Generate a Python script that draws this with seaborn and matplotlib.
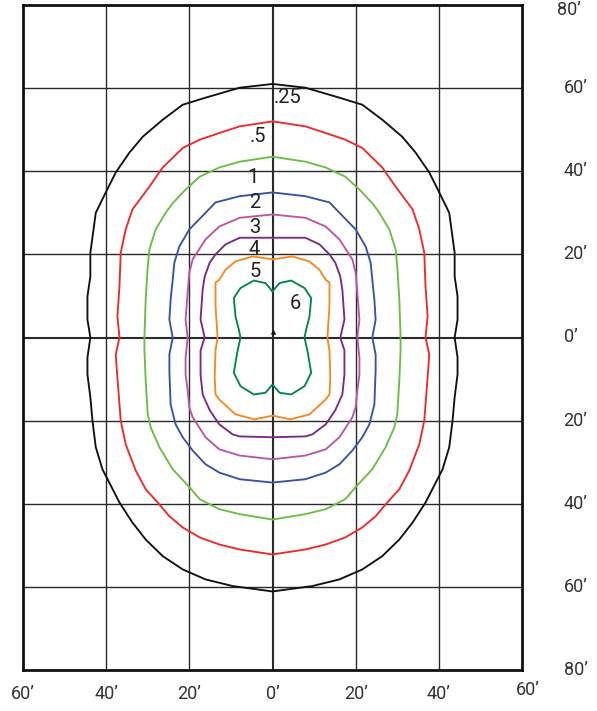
# grafico_isolux.py
# Diagrama de curvas isolux (vista en planta) con seaborn / matplotlib.

import matplotlib
matplotlib.use('Agg')
import matplotlib.pyplot as plt
import seaborn as sns
import pandas as pd

sns.set_style("white")
plt.rcParams['font.family'] = ['Roboto', 'DejaVu Sans']

# Datos: media curva derecha (x >= 0), de arriba hacia abajo, en pies
NIVELES = ['.25', '.5', '1', '2', '3', '4', '5', '6']
COLORES = ['#111111', '#ee2a2a', '#6cbd45', '#3a52a2', '#bb55a5', '#7a2a85', '#f58a22', '#00874a']

curva_025 = [(0, 61.0), (7.9, 60.1), (16.1, 57.7), (21.6, 56.0), (26.4, 52.4), (31.2, 48.3),
             (34.4, 44.5), (37.7, 39.7), (40.1, 34.9), (42.5, 30.0), (43.8, 20.4), (43.8, 14.7),
             (44.5, 9.9), (44.5, 4.3), (43.8, 0), (44.5, -4.8), (44.5, -8.9), (43.8, -14.4),
             (43.3, -20.0), (42.5, -26.4), (40.9, -31.7), (36.8, -39.7), (33.7, -44.5),
             (30.5, -48.6), (26.4, -52.6), (21.6, -55.8), (16.1, -58.2), (9.6, -59.8), (0, -61.1)]
curva_05 = [(0, 52.0), (7.9, 50.8), (12.8, 49.2), (17.5, 47.6), (21.6, 45.6), (26.4, 40.9),
            (29.6, 36.3), (33.7, 30.8), (35.3, 26.0), (36.5, 20.4), (36.8, 12.3), (37.3, 5.1),
            (36.8, 0), (37.7, -4.1), (37.3, -9.6), (36.5, -20.0), (35.3, -25.7), (32.9, -32.0),
            (30.5, -36.5), (27.6, -39.7), (24.8, -43.0), (21.6, -45.7), (17.5, -48.1),
            (12.8, -49.8), (7.9, -51.0), (0, -52.2)]
curva_1 = [(0, 43.5), (7.9, 42.3), (12.8, 40.9), (17.5, 38.7), (20.9, 35.6), (24.0, 32.3),
           (25.7, 30.0), (28.1, 26.0), (29.6, 21.2), (30.0, 17.1), (30.5, 9.1), (30.8, 0),
           (30.8, -3.1), (30.5, -10.3), (30.0, -18.5), (29.3, -21.6), (27.2, -26.4),
           (24.0, -31.7), (20.0, -36.0), (17.5, -38.9), (12.8, -41.3), (7.9, -42.5), (0, -43.8)]
curva_2 = [(0, 34.9), (7.9, 34.0), (13.7, 32.5), (16.1, 30.0), (20.0, 26.0), (22.4, 21.9),
           (23.6, 18.0), (24.0, 13.9), (24.5, 9.1), (24.8, 4.3), (24.0, 0), (24.8, -4.1),
           (24.8, -8.0), (24.5, -16.1), (23.3, -20.9), (21.6, -24.0), (19.2, -27.2),
           (16.1, -30.5), (12.8, -32.5), (7.9, -34.1), (0, -34.9)]
curva_3 = [(0, 29.6), (7.9, 28.8), (12.8, 26.7), (16.1, 23.6), (19.2, 18.8), (20.0, 15.6),
           (20.4, 10.8), (20.9, 4.3), (20.4, 0), (20.9, -4.8), (20.9, -8.9), (20.4, -12.7),
           (20.0, -16.8), (19.2, -19.2), (16.1, -24.0), (12.8, -26.9), (7.9, -28.4), (0, -29.3)]
curva_4 = [(0, 24.0), (7.9, 24.0), (11.3, 22.4), (13.7, 20.0), (15.1, 18.0), (16.3, 14.7),
           (16.8, 11.5), (17.3, 4.3), (16.3, 0), (17.3, -3.1), (17.3, -8.9), (16.8, -13.7),
           (15.1, -17.5), (12.8, -20.9), (9.6, -23.3), (7.9, -23.8), (0, -24.0)]
curva_5 = [(0, 18.8), (4.8, 19.5), (8.9, 18.3), (11.3, 16.3), (12.8, 13.9), (13.7, 13.2),
           (13.7, 7.5), (13.2, 0), (13.7, -3.1), (13.9, -9.6), (13.7, -13.7), (12.8, -14.9),
           (8.9, -18.5), (4.3, -19.7), (0, -18.8)]
curva_6 = [(0, 11.1), (1.7, 13.1), (4.5, 13.7), (7.7, 11.9), (9.3, 9.5), (8.9, 5.1),
           (8.1, 1.9), (7.7, 0), (8.5, -3.7), (9.3, -8.5), (7.7, -11.7), (4.5, -13.7),
           (1.7, -13.3), (0, -11.3)]

CURVAS = [curva_025, curva_05, curva_1, curva_2, curva_3, curva_4, curva_5, curva_6]

# Posición de las etiquetas de cada curva
ETIQUETAS_X = [0.3, -3.6, -4.8, -4.3, -4.3, -4.3, -4.1, 5.5]
ETIQUETAS_Y = [57.7, 48.3, 38.5, 32.5, 26.4, 21.2, 15.9, 8.2]
ETIQUETAS_HA = ['left', 'center', 'center', 'center', 'center', 'center', 'center', 'center']

TICKS = [-60, -40, -20, 0, 20, 40, 60]
TICKS_Y = [-80, -60, -40, -20, 0, 20, 40, 60, 80]

# Construir tabla larga: mitad derecha + reflejo izquierdo para cerrar cada curva
filas = []
for nivel, curva in zip(NIVELES, CURVAS):
    derecha = list(curva)
    izquierda = [(-x, y) for x, y in reversed(curva)]
    for orden, (x, y) in enumerate(derecha + izquierda):
        filas.append({'nivel': nivel, 'orden': orden, 'x': x, 'y': y})
df = pd.DataFrame(filas)

fig = plt.figure(figsize=(5.97, 7.11), dpi=100)
ax = fig.add_axes([23 / 597, 1 - 670 / 711, 499 / 597, 665 / 711])

# Rejilla
for t in TICKS[1:-1]:
    ax.axvline(t, color='#2a2a2a', lw=1.0 if t != 0 else 1.5, zorder=1)
for t in TICKS_Y[1:-1]:
    ax.axhline(t, color='#2a2a2a', lw=1.0 if t != 0 else 1.5, zorder=1)

sns.lineplot(data=df, x='x', y='y', hue='nivel', hue_order=NIVELES,
             palette=dict(zip(NIVELES, COLORES)), sort=False, estimator=None,
             lw=1.35, legend=False, ax=ax, zorder=3)

# Pequeña marca en el origen
ax.plot([0], [1.3], marker='^', color='#111111', ms=2.5, zorder=4)

for txt, x, y, ha in zip(NIVELES, ETIQUETAS_X, ETIQUETAS_Y, ETIQUETAS_HA):
    ax.text(x, y, txt, ha=ha, va='center', fontsize=14.5, color='#222222', zorder=5)

ax.set_xlim(-60, 60)
ax.set_ylim(-80, 80)
ax.set_xticks([])
ax.set_yticks([])
ax.set_xlabel('')
ax.set_ylabel('')
for s in ax.spines.values():
    s.set_color('#111111')
    s.set_linewidth(2)

# Etiquetas de ejes (pies)
for t in TICKS:
    yy = -85.8 if t != 60 else -84.8
    xx = t if t != 60 else 61.5
    ax.text(xx, yy, f"{abs(t)}\u2019", ha='center', va='center', fontsize=13,
            color='#333333', clip_on=False)
for t in TICKS_Y:
    yy = t if t != 80 else 78.8
    xx = 70.0 if t != 80 else 68.5
    ax.text(xx, yy, f"{abs(t)}\u2019", ha='left', va='center', fontsize=13,
            color='#333333', clip_on=False)

plt.savefig('out.png', dpi=100)
plt.close()
